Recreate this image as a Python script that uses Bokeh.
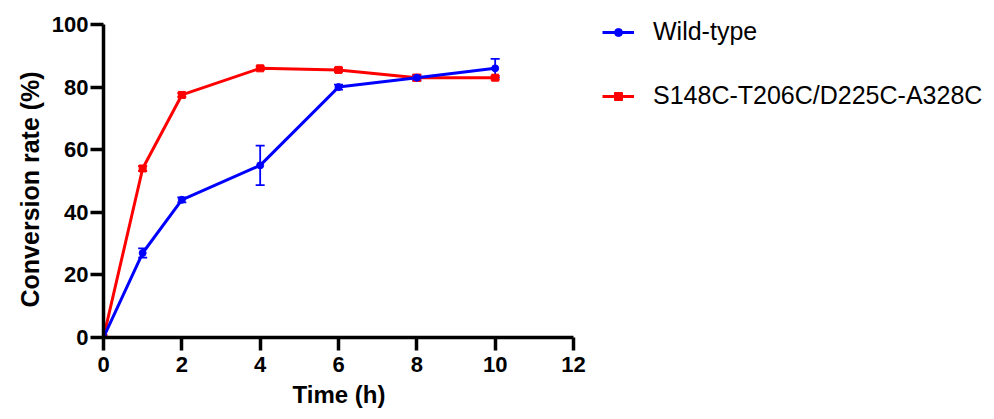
from bokeh.plotting import figure
from bokeh.models import Range1d, Legend, LegendItem, Whisker, ColumnDataSource, TeeHead, FixedTicker, Title
from bokeh.embed import file_html
from bokeh.resources import INLINE

time_h = [0, 1, 2, 4, 6, 8, 10]
wild_type = [0, 27, 44, 55, 80, 83, 86]
wild_type_err = [0, 1.5, 0.8, 6.3, 0.8, 0.8, 3.0]
mutant = [0, 54, 77.5, 86, 85.5, 83, 83]
mutant_err = [0, 0.8, 0.6, 0.6, 0.6, 1.0, 0.6]
x_ticks = [0, 2, 4, 6, 8, 10, 12]
y_ticks = [0, 20, 40, 60, 80, 100]
series_labels = ["Wild-type", "S148C-T206C/D225C-A328C"]
x_title = "Time (h)"
y_title = "Conversion rate (%)"

FONT = "Liberation Sans"
BLUE = "#0000ff"
RED = "#ff0000"

# page layout (pixels): plotting area spans x 103..573, y 24..337;
# the frame is extended to the right/top so the legend can live inside it
W, H = 994, 419
FL, FR, FT, FB = 103, 990, 4, 337
AX_R, AX_T = 573, 24
x_end = 12 * (FR - FL) / (AX_R - FL)
y_end = 100 * (FB - FT) / (FB - AX_T)

p = figure(width=W, height=H, output_backend="svg", toolbar_location=None,
           x_range=Range1d(0, x_end), y_range=Range1d(0, y_end),
           min_border_left=FL, min_border_top=FT, min_border_bottom=H - FB, min_border_right=W - FR)
p.outline_line_color = None
p.xgrid.visible = False
p.ygrid.visible = False
p.background_fill_color = "white"

for ax in (p.xaxis[0], p.yaxis[0]):
    ax.axis_line_width = 3.5
    ax.axis_line_color = "black"
    ax.major_tick_line_width = 3.5
    ax.major_tick_line_color = "black"
    ax.major_tick_out = 13
    ax.major_tick_in = 0
    ax.minor_tick_line_color = None
    ax.major_label_text_font = FONT
    ax.major_label_text_font_style = "bold"
    ax.major_label_text_font_size = "22px"
    ax.major_label_text_color = "black"

p.xaxis.ticker = FixedTicker(ticks=x_ticks)
p.yaxis.ticker = FixedTicker(ticks=y_ticks)
p.xaxis.bounds = (0, 12)
p.yaxis.bounds = (0, 100)
p.xaxis.major_label_standoff = 6
p.yaxis.major_label_standoff = 2

# axis titles centred on the drawn axes (not on the extended frame)
xt = Title(text=x_title, align="left", offset=292 - FL, standoff=9,
           text_font=FONT, text_font_style="bold", text_font_size="24px", text_color="black")
p.add_layout(xt, "below")
yt = Title(text=y_title, align="left", offset=FB - 307, standoff=9,
           text_font=FONT, text_font_style="bold", text_font_size="25px", text_color="black")
p.add_layout(yt, "left")

def add_series(y, err, color, marker):
    src = ColumnDataSource(dict(x=time_h, y=y,
                                lo=[a - b for a, b in zip(y, err)],
                                hi=[a + b for a, b in zip(y, err)]))
    w = Whisker(source=src, base="x", lower="lo", upper="hi", line_color=color, line_width=1.8,
                upper_head=TeeHead(size=9, line_color=color, line_width=1.8),
                lower_head=TeeHead(size=9, line_color=color, line_width=1.8))
    p.add_layout(w)
    ln = p.line("x", "y", source=src, line_color=color, line_width=3)
    sc = p.scatter("x", "y", source=src, marker=marker, size=7, fill_color=color, line_color=color)
    return [ln, sc]

r_mut = add_series(mutant, mutant_err, RED, "square")
r_wt = add_series(wild_type, wild_type_err, BLUE, "circle")

legend = Legend(items=[LegendItem(label=series_labels[0], renderers=r_wt),
                       LegendItem(label=series_labels[1], renderers=r_mut)],
                location=(602 - FL, FB - 110), orientation="vertical",
                label_text_font=FONT, label_text_font_size="25px", label_text_color="black",
                glyph_width=32, glyph_height=20, label_standoff=19, spacing=35,
                border_line_color=None, background_fill_alpha=0, padding=0, margin=0)
p.add_layout(legend, "center")

open("out.html", "w").write(file_html(p, INLINE))
